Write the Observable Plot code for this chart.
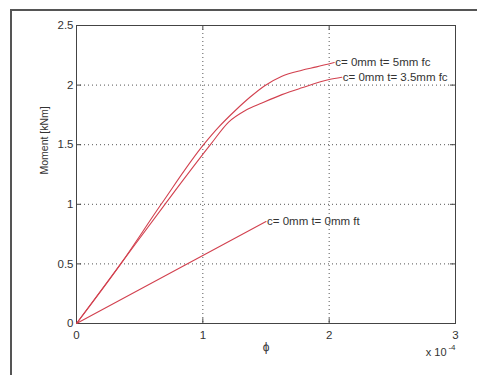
<!DOCTYPE html>
<html>
<head>
<meta charset="utf-8">
<script src="https://cdn.jsdelivr.net/npm/d3@7"></script>
<script src="https://cdn.jsdelivr.net/npm/@observablehq/plot@0.6"></script>
<style>
  html, body { margin: 0; padding: 0; background: #fff; }
  #wrap { position: relative; width: 477px; height: 375px; overflow: hidden; }
  #frame { position: absolute; left: 10px; top: 9px; width: 480px; height: 380px;
           border-top: 2px solid #555; border-left: 2px solid #555; pointer-events: none; }
</style>
</head>
<body>
<div id="wrap"><div id="frame"></div></div>
<script>
// Data (phi in units of 1e-4, moment in kNm)
const phi5  = [0, 0.35, 0.67, 1.006, 1.125, 1.257, 1.375, 1.49, 1.626, 1.784, 1.90, 2.04];
const m5    = [0, 0.50, 1.00, 1.50, 1.647, 1.787, 1.90, 1.995, 2.075, 2.125, 2.153, 2.19];
const phi35 = [0, 0.35, 0.70, 1.06, 1.204, 1.336, 1.468, 1.626, 1.784, 2.00, 2.10];
const m35   = [0, 0.50, 1.00, 1.50, 1.69, 1.787, 1.85, 1.92, 1.977, 2.047, 2.066];
const phi0  = [0, 1.50];
const m0    = [0, 0.855];
const seriesNames = ["c= 0mm t= 5mm fc", "c= 0mm t= 3.5mm fc", "c= 0mm t= 0mm ft"];
const xTicks = [0, 1, 2, 3];
const yTicks = [0, 0.5, 1, 1.5, 2, 2.5];
const xGrid = [1, 2];
const yGrid = [0.5, 1, 1.5, 2];
const xLabel = "\u03d5";
const yLabel = "Moment [kNm]";
const xScaleText = "x 10";
const xScaleExp = "-4";

const series = [[phi5, m5], [phi35, m35], [phi0, m0]];
const rows = series.flatMap(([xs, ys], i) => xs.map((x, j) => ({x, y: ys[j], s: seriesNames[i]})));
const ends = series.map(([xs, ys], i) => ({x: xs[xs.length - 1], y: ys[ys.length - 1], s: seriesNames[i]}));

const red = "#d2414f";
const font = "'Liberation Sans', Arial, sans-serif";

const chart = Plot.plot({
  width: 477,
  height: 375,
  marginLeft: 76,
  marginTop: 25,
  marginRight: 22,
  marginBottom: 52,
  style: {fontFamily: font, fontSize: "11px", color: "#333", background: "transparent"},
  x: {domain: [0, 3], axis: null},
  y: {domain: [0, 2.5], axis: null},
  marks: [
    Plot.ruleX(xGrid, {stroke: "#555", strokeWidth: 1, strokeDasharray: "1,3"}),
    Plot.ruleY(yGrid, {stroke: "#555", strokeWidth: 1, strokeDasharray: "1,3"}),
    // inward ticks
    Plot.ruleX(xTicks, {y1: 0, y2: 0.04, stroke: "#444"}),
    Plot.ruleX(xTicks, {y1: 2.5, y2: 2.46, stroke: "#444"}),
    Plot.ruleY(yTicks, {x1: 0, x2: 0.04, stroke: "#444"}),
    Plot.ruleY(yTicks, {x1: 3, x2: 2.96, stroke: "#444"}),
    Plot.frame({stroke: "#444", strokeWidth: 1}),
    Plot.axisX(xTicks, {tickSize: 0, tickPadding: 7, fontSize: 11.5, label: null, tickFormat: d => String(d)}),
    Plot.axisY(yTicks, {tickSize: 0, tickPadding: 3, fontSize: 11.5, label: null, tickFormat: d => String(d)}),
    Plot.line(rows, {x: "x", y: "y", z: "s", stroke: red, strokeWidth: 1.1, curve: "monotone-x"}),
    Plot.text(ends, {x: "x", y: "y", text: "s", textAnchor: "start", dx: 1, fontSize: 11.5, fill: "#333"}),
    Plot.text([yLabel], {frameAnchor: "left", rotate: -90, dx: -32, fontSize: 10.5, fill: "#333"}),
    Plot.text([xLabel], {frameAnchor: "bottom", dy: 27, fontSize: 12, fill: "#333"}),
    Plot.text([xScaleText], {frameAnchor: "bottom-right", textAnchor: "end", dx: -9, dy: 32, fontSize: 11, fill: "#333"}),
    Plot.text([xScaleExp], {frameAnchor: "bottom-right", textAnchor: "end", dx: 0, dy: 26, fontSize: 8, fill: "#333"})
  ]
});
chart.style.position = "absolute";
chart.style.left = "0px";
chart.style.top = "0px";
document.getElementById("wrap").prepend(chart);
</script>
</body>
</html>
